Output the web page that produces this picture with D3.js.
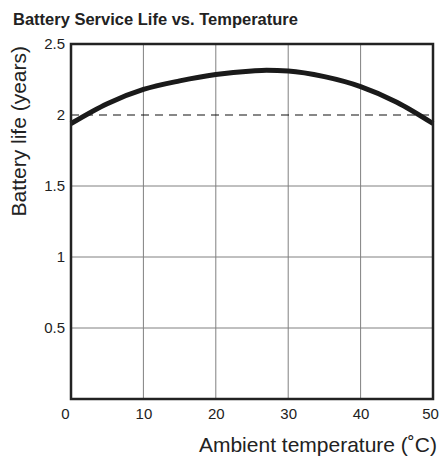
<!DOCTYPE html>
<html>
<head>
<meta charset="utf-8">
<script src="https://cdn.jsdelivr.net/npm/d3@7/dist/d3.min.js"></script>
<style>
  html, body { margin: 0; padding: 0; background: #fff; }
  svg { display: block; font-family: "Liberation Sans", Arial, Helvetica, sans-serif; }
</style>
</head>
<body>
<svg id="chart" width="441" height="461"></svg>
<script>
// Service life curve: ambient temperature (°C) vs. battery life (years)
const temperature = [0, 5, 10, 15, 20, 25, 27, 30, 35, 40, 45, 50];
const lifeYears   = [1.94, 2.08, 2.18, 2.24, 2.285, 2.31, 2.315, 2.31, 2.27, 2.20, 2.09, 1.94];

const xTicks = [0, 10, 20, 30, 40, 50];
const yTicks = [0.5, 1, 1.5, 2, 2.5];
const yTickLabels = ["0.5", "1", "1.5", "2", "2.5"];
const referenceLife = 2;

const svg = d3.select("#chart");
const margin = { left: 71, right: 8, top: 44, bottom: 62 };
const W = 441, H = 461;

const x = d3.scaleLinear().domain([0, 50]).range([margin.left, W - margin.right]);
const y = d3.scaleLinear().domain([0, 2.5]).range([H - margin.bottom, margin.top]);

// Title
svg.append("text")
  .attr("x", 13).attr("y", 25)
  .attr("font-size", 16.5).attr("font-weight", "bold").attr("fill", "#222")
  .text("Battery Service Life vs. Temperature");

// Gridlines
const grid = svg.append("g").attr("stroke", "#808080").attr("stroke-width", 1);
grid.selectAll("line.v").data(xTicks.slice(1, -1)).join("line")
  .attr("x1", d => x(d)).attr("x2", d => x(d))
  .attr("y1", y(0)).attr("y2", y(2.5));
grid.selectAll("line.h").data(yTicks.filter(d => d !== referenceLife && d !== 2.5)).join("line")
  .attr("x1", x(0)).attr("x2", x(50))
  .attr("y1", d => y(d)).attr("y2", d => y(d));

// Dashed reference line at 2 years
svg.append("line")
  .attr("x1", x(0)).attr("x2", x(50))
  .attr("y1", y(referenceLife)).attr("y2", y(referenceLife))
  .attr("stroke", "#111").attr("stroke-width", 1.2)
  .attr("stroke-dasharray", "8,6");

// Curve
const line = d3.line()
  .x((d, i) => x(temperature[i]))
  .y(d => y(d))
  .curve(d3.curveMonotoneX);
svg.append("path")
  .datum(lifeYears)
  .attr("d", line)
  .attr("fill", "none")
  .attr("stroke", "#1a1a1a")
  .attr("stroke-width", 5)
  .attr("stroke-linecap", "butt");

// Frame
svg.append("rect")
  .attr("x", x(0)).attr("y", y(2.5))
  .attr("width", x(50) - x(0)).attr("height", y(0) - y(2.5))
  .attr("fill", "none").attr("stroke", "#222").attr("stroke-width", 2.5);

// Axes (labels only)
const xAxis = d3.axisBottom(x).tickValues(xTicks).tickSize(0).tickPadding(9).tickFormat(d3.format("d"));
const gx = svg.append("g").attr("transform", `translate(0,${y(0)})`).call(xAxis);
gx.select(".domain").remove();
gx.selectAll("text").attr("font-size", 15).attr("fill", "#222").attr("font-family", "Liberation Sans, Arial, sans-serif")
  .attr("dx", d => d === 0 ? -6 : d === 50 ? -3 : 0);

const yAxis = d3.axisLeft(y).tickValues(yTicks).tickSize(0).tickPadding(6)
  .tickFormat((d, i) => yTickLabels[i]);
const gy = svg.append("g").attr("transform", `translate(${x(0)},0)`).call(yAxis);
gy.select(".domain").remove();
gy.selectAll("text").attr("font-size", 15).attr("fill", "#222").attr("font-family", "Liberation Sans, Arial, sans-serif");

// Axis titles
svg.append("text")
  .attr("x", 437).attr("y", 452)
  .attr("text-anchor", "end")
  .attr("font-size", 21).attr("fill", "#222")
  .text("Ambient temperature (˚C)");

svg.append("text")
  .attr("transform", `translate(26,46) rotate(-90)`)
  .attr("text-anchor", "end")
  .attr("font-size", 21).attr("fill", "#222")
  .text("Battery life (years)");
</script>
</body>
</html>
